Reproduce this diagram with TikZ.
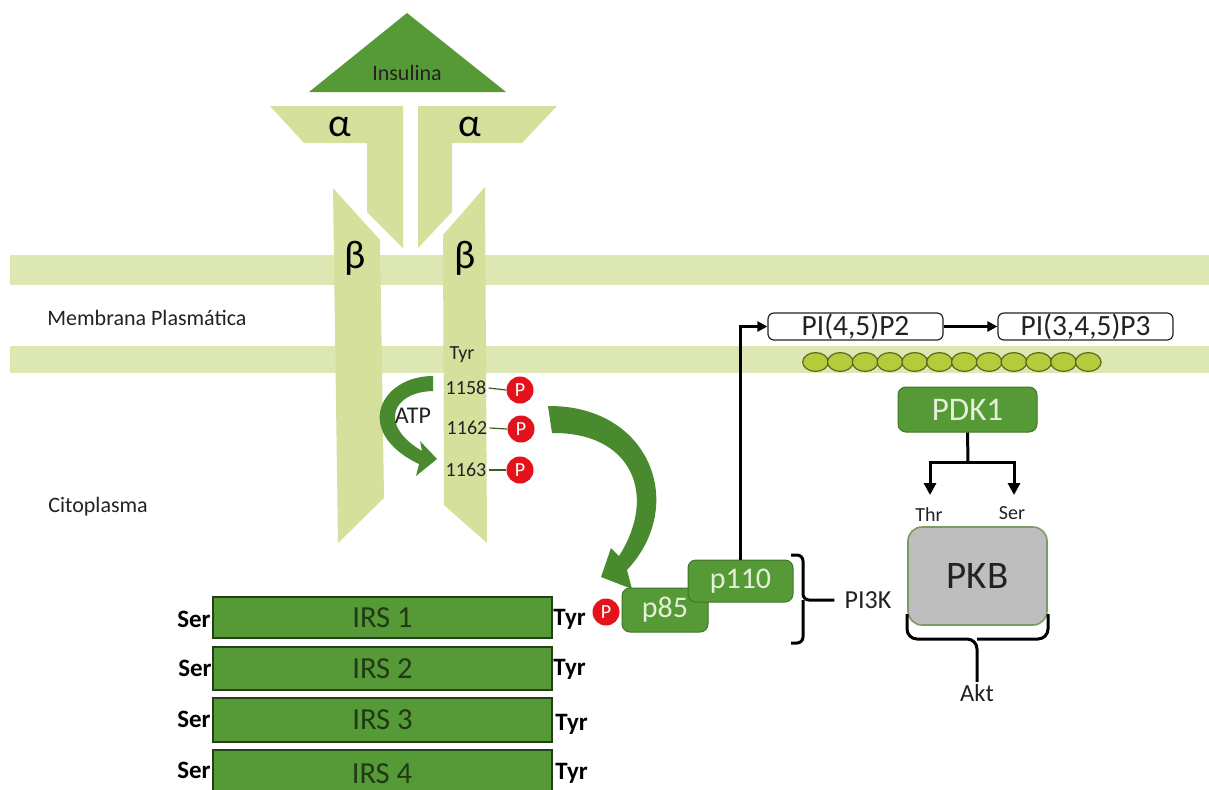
\documentclass[tikz,border=0pt]{standalone}
\usepackage{fontspec}
\setmainfont{Carlito}
\usetikzlibrary{arrows.meta,fit}

\definecolor{membrane}{HTML}{DDE7B4}
\definecolor{chain}{HTML}{D5E09C}
\definecolor{leaf}{HTML}{559A36}
\definecolor{leafdark}{HTML}{4A8A2E}
\definecolor{irsedge}{HTML}{22401A}
\definecolor{irstext}{HTML}{1F3A14}
\definecolor{paletext}{HTML}{E4F0D8}
\definecolor{phos}{HTML}{E3121B}
\definecolor{lipid}{HTML}{B4CB3C}
\definecolor{lipidedge}{HTML}{5A6A18}
\definecolor{pkbgray}{HTML}{BEBEBE}
\definecolor{pkbedge}{HTML}{7E9A62}
\definecolor{ink}{HTML}{222222}

\tikzset{
  irsbox/.style={draw=irsedge, line width=1.2pt, fill=leaf, inner sep=0pt},
  irslabel/.style={text=irstext, font=\fontsize{15.3}{17}\selectfont, inner sep=0pt},
  subunit/.style={draw=leafdark!85!black, line width=0.5pt, fill=leaf,
    rounded corners=4pt, text=paletext, font=\fontsize{15}{17}\selectfont, inner sep=0pt},
  pcirc/.style={circle, fill=phos, text=white, inner sep=0pt, minimum size=13.5pt,
    font=\fontsize{10}{12}\selectfont},
  pibox/.style={draw=ink, line width=0.6pt, rounded corners=3pt, fill=white,
    minimum width=87.5pt, minimum height=13.5pt, inner sep=0pt, text=ink,
    font=\fontsize{14.7}{15}\selectfont},
  resid/.style={font=\bfseries\fontsize{12.5}{14}\selectfont, inner sep=1pt, text=black},
  num/.style={font=\fontsize{10}{12}\selectfont, inner sep=1pt, text=ink},
  lbl/.style={font=\fontsize{11}{13}\selectfont, text=ink, inner sep=1pt},
  greek/.style={font=\fontsize{20}{22}\selectfont, text=black, inner sep=0pt},
  pathway/.style={line width=1.5pt, draw=black},
  bracket/.style={line width=1.5pt, draw=black},
  tiny link/.style={line width=0.6pt, draw=leafdark!70!black},
  lipidball/.style={fill=lipid, draw=lipidedge, line width=0.6pt},
}

\begin{document}
\begin{tikzpicture}[x=0.5pt, y=-0.5pt]
  \useasboundingbox (0,0) rectangle (1209,789);
  \fill[white] (0,0) rectangle (1209,789);

  % lipid bilayer
  \fill[membrane] (10,255) rectangle (1209,285);
  \fill[membrane] (10,346) rectangle (1209,373);

  % insulin receptor: alpha and beta chains
  \fill[chain] (270,106) -- (403,106) -- (403,248) -- (367,212) -- (367,143) -- (304,143) -- cycle;
  \fill[chain] (557,106) -- (418,106) -- (418,248) -- (452,212) -- (452,143) -- (522,143) -- cycle;
  \fill[chain] (333,188) -- (380,240) -- (384,498) -- (338,543) -- cycle;
  \fill[chain] (485,187) -- (443,235) -- (444,505) -- (487,543) -- cycle;

  \node[greek] (a1) at (340,127) {α};
  \node[greek] (a2) at (470,127) {α};
  \node[greek] (b1) at (355,258) {β};
  \node[greek] (b2) at (465,258) {β};

  % insulin
  \fill[leaf] (407,13) -- (506,92) -- (309,92) -- cycle;
  \node[font=\fontsize{11}{13}\selectfont, text=ink] (ins) at (407,73) {Insulina};

  % compartment labels
  \node[lbl, anchor=west] (mem) at (45,318) {Membrana Plasmática};
  \node[lbl, anchor=west] (cyto) at (46,507) {Citoplasma};

  % autophosphorylation
  \fill[leafdark] (433,376) .. controls (380,376) and (352,432) .. (419,464)
    -- (416,476) -- (437,459) -- (420,441) -- (422,451)
    .. controls (378,425) and (392,392) .. (433,391) -- cycle;
  \node[lbl, font=\fontsize{12}{14}\selectfont] (atp) at (413,416) {ATP};

  \node[num] (tyr) at (462,355) {Tyr};
  \node[num] (n1158) at (466,388) {1158};
  \node[num] (n1162) at (467,428) {1162};
  \node[num] (n1163) at (466,470) {1163};
  \node[pcirc] (p1) at (520,390) {P};
  \node[pcirc] (p2) at (521,429) {P};
  \node[pcirc] (p3) at (520,470) {P};
  \draw[tiny link] (n1158.east) -- (p1.west);
  \draw[tiny link] (n1162.east) -- (p2.west);
  \draw[tiny link] (n1163.east) -- (p3.west);

  % receptor to IRS
  \fill[leafdark] (548,406) .. controls (650,405) and (688,505) .. (627,570)
    -- (632,589) -- (601,577) -- (611,548) -- (619,556)
    .. controls (658,495) and (632,432) .. (552,433) -- cycle;

  % IRS proteins
  \node[irsbox, fit={(213,597)(552,638)}, label={[irslabel]center:IRS 1}] (irs1) {};
  \node[irsbox, fit={(213,647)(552,690)}, label={[irslabel]center:IRS 2}] (irs2) {};
  \node[irsbox, fit={(213,698)(552,742)}, label={[irslabel]center:IRS 3}] (irs3) {};
  \node[irsbox, fit={(213,750)(552,800)}] (irs4) {};
  \node[irslabel] (irs4t) at (382,774) {IRS 4};

  \node[resid, anchor=east] (s1) at (213,619) {Ser};
  \node[resid, anchor=east] (s2) at (214,668) {Ser};
  \node[resid, anchor=east] (s3) at (213,719) {Ser};
  \node[resid, anchor=east] (s4) at (213,770) {Ser};
  \node[resid, anchor=west] (t1) at (551,619) {Tyr};
  \node[resid, anchor=west] (t2) at (551,669) {Tyr};
  \node[resid, anchor=west] (t3) at (553,724) {Tyr};
  \node[resid, anchor=west] (t4) at (553,773) {Tyr};
  \node[pcirc] (p4) at (606,612) {P};

  % PI3K
  \node[subunit, minimum width=43pt, minimum height=22pt] (p85) at (665,610) {p85};
  \node[subunit, minimum width=52.5pt, minimum height=21pt] (p110) at (740.5,581) {p110};
  \node[lbl, font=\fontsize{13}{15}\selectfont] (pi3k) at (868,600) {PI3K};
  \draw[bracket, rounded corners=3pt] (791,555) -- (803,555) -- (803,600) -- ([xshift=-4pt]pi3k.west);
  \draw[bracket, rounded corners=3pt] (791,643) -- (803,643) -- (803,600);

  % phosphoinositides
  \node[pibox] (pip2) at (855.5,326.5) {PI(4,5)P2};
  \node[pibox] (pip3) at (1085.5,326.5) {PI(3,4,5)P3};
  \draw[pathway, line width=1.2pt, -{Triangle[length=5pt,width=5pt]}] (p110.north) |- (pip2.west);
  \draw[pathway, line width=1.2pt, -{Triangle[length=5pt,width=5pt]}] (pip2.east) -- (pip3.west);

  \foreach \i in {0,...,11}
    \draw[lipidball] ({815.5+24.8*\i},362) ellipse [x radius=6.4pt, y radius=4.7pt];

  % PDK1 and Akt
  \node[subunit, minimum width=69.5pt, minimum height=22.5pt, font=\fontsize{16.5}{18}\selectfont] (pdk1) at (967.5,409.5) {PDK1};
  \coordinate (fork) at (968,462);
  \coordinate (thrtip) at (930,495);
  \coordinate (sertip) at (1014,495);
  \draw[pathway] (pdk1.south) -- (fork);
  \draw[pathway, -{Triangle[length=6pt,width=6pt]}] (fork) -| (thrtip);
  \draw[pathway, -{Triangle[length=6pt,width=6pt]}] (fork) -| (sertip);
  \node[num] (thr) at (929,515) {Thr};
  \node[num] (ser) at (1012,513) {Ser};

  \node[draw=pkbedge, line width=0.8pt, fill=pkbgray, rounded corners=7pt,
        minimum width=69.5pt, minimum height=49pt, text=ink,
        font=\fontsize{19.5}{21}\selectfont] (pkb) at (977.5,576) {PKB};
  \node[lbl, font=\fontsize{12.3}{14}\selectfont] (akt) at (977,693) {Akt};
  \draw[bracket, rounded corners=5pt] (907,614) -- (907,639) -- (977,639) -- (akt.north);
  \draw[bracket, rounded corners=5pt] (1048,614) -- (1048,639) -- (977,639);
\end{tikzpicture}
\end{document}
